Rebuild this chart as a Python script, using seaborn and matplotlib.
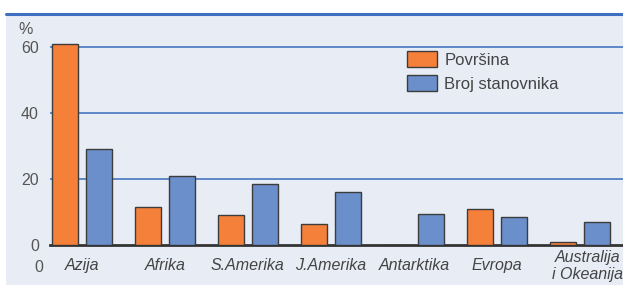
import pandas as pd
import numpy as np
import seaborn as sns
import matplotlib.pyplot as plt
import matplotlib.transforms as mtransforms
from matplotlib.patches import Rectangle
from matplotlib.lines import Line2D

# podaci procitani sa slike (%)
kontinenti = ["Azija", "Afrika", "S.Amerika", "J.Amerika", "Antarktika", "Evropa", "Australija\ni Okeanija"]
povrsina = [61, 11.5, 9, 6.5, 0, 11, 1]
stanovnici = [29, 21, 18.5, 16, 9.5, 8.5, 7]
serije = ["Površina", "Broj stanovnika"]
boje = ["#f5803a", "#6a8fcb"]

df = pd.DataFrame({
    "Kontinent": kontinenti * 2,
    "Serija": [serije[0]] * len(kontinenti) + [serije[1]] * len(kontinenti),
    "Vrijednost": povrsina + stanovnici,
})

sns.set_style("white")
plt.rcParams["font.family"] = ["Liberation Sans", "DejaVu Sans"]

pozadina = "#e8ecf5"
W, H = 623, 285
fig = plt.figure(figsize=(W / 100, H / 100), dpi=100, facecolor=pozadina)
ax = fig.add_axes([50 / W, (H - 245) / H, (W - 50) / W, (245 - 15) / H])
ax.set_facecolor(pozadina)

sns.barplot(data=df, x="Kontinent", y="Vrijednost", hue="Serija", palette=boje,
            saturation=1, width=0.82, gap=0.24, edgecolor="#3c3c3c", linewidth=1.0,
            ax=ax, zorder=3)

ax.set_xlim(-0.385, 6.52)
ax.set_ylim(0, 69.7)
ax.set_yticks([0, 20, 40, 60])
for v in [20, 40, 60]:
    ax.axhline(v, color="#4578c0", lw=1.2, zorder=1)

for s in ["left", "right", "top"]:
    ax.spines[s].set_visible(False)
ax.spines["bottom"].set_color("#333333")
ax.spines["bottom"].set_linewidth(2)

ax.tick_params(axis="y", length=6, width=1, color="#555555", labelsize=11.5,
               labelcolor="#555555", pad=2)
ax.tick_params(axis="x", length=0, labelsize=11.5, labelcolor="#444444", pad=15)
for lbl in ax.get_xticklabels():
    lbl.set_style("italic")
    lbl.set_va("center")
# zadnja oznaka je u originalu pomaknuta udesno
zadnja = ax.get_xticklabels()[-1]
zadnja.set_transform(zadnja.get_transform() +
                     mtransforms.ScaledTranslation(8 / 100, 0, fig.dpi_scale_trans))
ax.set_xlabel("")
ax.set_ylabel("")

fig.text(26 / W, 1 - 30 / H, "%", fontsize=11.5, color="#555555", ha="center", va="center")
fig.text(39 / W, 1 - 267 / H, "0", fontsize=11.5, color="#555555", ha="center", va="center")

leg = ax.legend(loc="upper left", bbox_to_anchor=(407 / W, 1 - 51 / H),
                bbox_transform=fig.transFigure, frameon=False, fontsize=12,
                handlelength=1.8, handleheight=1.1, handletextpad=0.45,
                labelspacing=0.45, borderpad=0, borderaxespad=0)
for t in leg.get_texts():
    t.set_color("#444444")

# bijele margine skena i plava linija na vrhu
fig.add_artist(Rectangle((0, 1 - 13 / H), 1, 13 / H, transform=fig.transFigure,
                         facecolor="white", edgecolor="none", zorder=0))
fig.add_artist(Rectangle((0, 0), 6 / W, 1, transform=fig.transFigure,
                         facecolor="white", edgecolor="none", zorder=0))
fig.add_artist(Line2D([6 / W, 1], [1 - 14 / H, 1 - 14 / H], transform=fig.transFigure,
                      color="#3f6fc0", lw=2.2))

fig.savefig("out.png", dpi=100, facecolor=pozadina)
